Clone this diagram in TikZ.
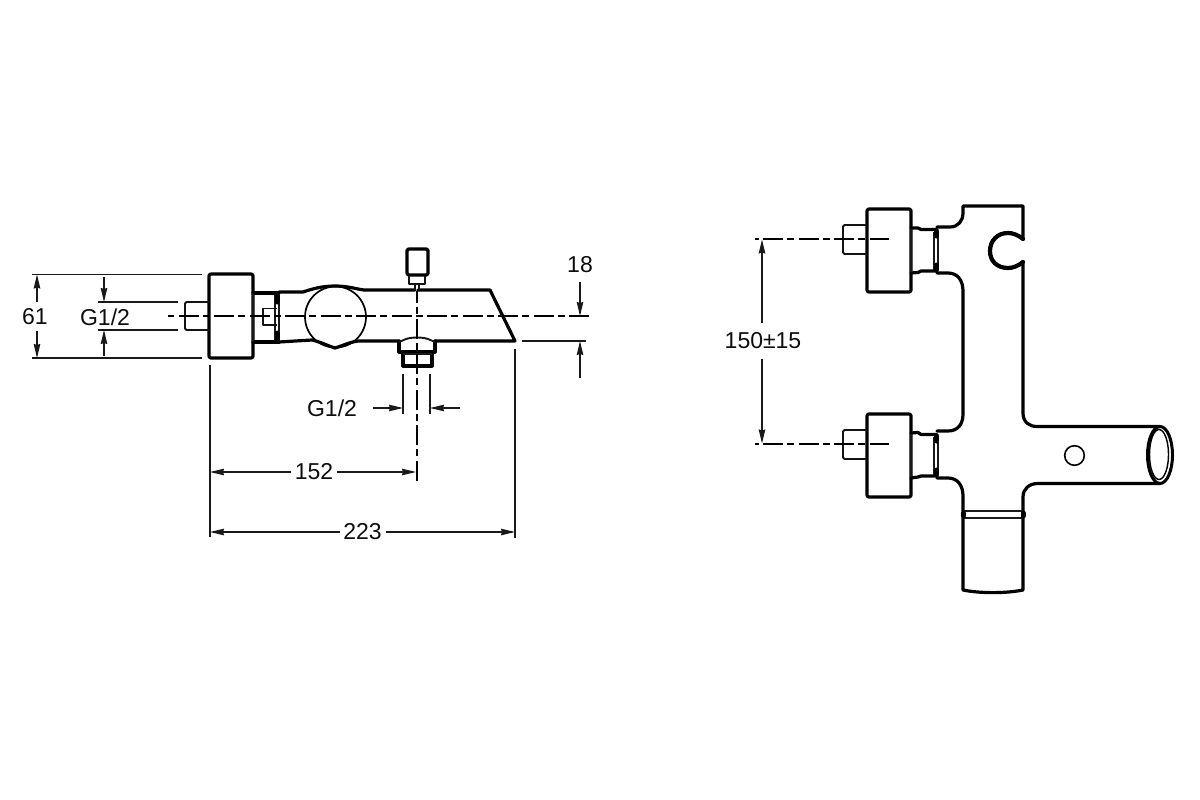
\documentclass[tikz,border=0pt]{standalone}
\usepackage{fontspec}
\setmainfont{Liberation Sans}
\usetikzlibrary{arrows.meta}
\tikzset{
  outline/.style={line width=3.2pt,line join=round,line cap=round,black},
  medium/.style={line width=1.9pt,line join=round,black!92},
  thinline/.style={line width=1.4pt,black!90},
  dimline/.style={line width=1.3pt,black!90},
  axisline/.style={line width=1.7pt,black,dash pattern=on 20pt off 4.25pt on 7pt off 4.25pt},
  arrowed/.style={dimline,-{Stealth[length=14pt,width=6.5pt,inset=1pt]}},
  lbl/.style={font=\fontsize{23}{26}\selectfont,inner sep=0pt,text=black!95},
  blob/.style={line width=5pt,line cap=round,black}
}
\begin{document}
\begin{tikzpicture}[x=1pt,y=-1pt]
\useasboundingbox (0,0) rectangle (1200,800);
% ---------- LEFT VIEW ----------
% back block and stub
\draw[outline,rounded corners=2pt] (209,274) -- (253,274) -- (253,358) -- (209,358) -- cycle;
\draw[medium,rounded corners=1.5pt] (209,302) -- (185,302) -- (185,330) -- (209,330);
% neck
\draw[outline] (253,293) -- (279,293);
\draw[outline] (253,342) -- (279,342);
\draw[thinline] (253,293) -- (253,342);
\draw[thinline] (275,294) -- (275,341);
\draw[thinline] (279,294) -- (279,341);
\draw[blob] (277,296) -- (277,302);
\draw[blob] (277,333) -- (277,339);
\draw[medium] (277,308.5) -- (263,308.5) -- (263,325) -- (277,325);
% body
\draw[outline] (279,292) -- (303,292) .. controls (312,289) and (322,286) .. (335,286)
  .. controls (348,286) and (356,289) .. (364,290) -- (415,290);
\draw[outline] (418,290) -- (490,290) -- (515,341) -- (499,341) -- (435,341);
\draw[outline] (399,341) -- (358,341) .. controls (350,342) and (342,346) .. (335,348)
  .. controls (328,346) and (321,342) .. (312,340) -- (279,342);
\draw[line width=1.7pt] (335.5,317) circle[radius=30.5];
% spout nut
\draw[outline] (399,341) -- (399,352) -- (435,352) -- (435,341);
\draw[medium] (399,342) -- (406,339) .. controls (412,337) and (422,337) .. (428,339) -- (435,342);
\draw[outline] (403,352) -- (403,366) -- (432,366) -- (432,352);
\draw[thinline] (403,354) -- (432,354);
% lever
\draw[outline,rounded corners=1.5pt] (407,275) -- (407,249) -- (428,249) -- (428,275) -- cycle;
\draw[medium] (409,276) -- (409,284) -- (425,284) -- (425,276);
\draw[medium] (415,284) -- (415,290);
\draw[medium] (419,284) -- (419,290);
% axes
\draw[axisline,dash phase=25pt] (168,316) -- (590,316);
\draw[axisline,line width=2.3pt,dash phase=8pt] (417,291) -- (417,483);
% dimensions
\coordinate (a61t) at (37,274.5);
\coordinate (a61b) at (37,358);
\draw[dimline] (32,274.5) -- (202,274.5);
\draw[dimline] (32,358) -- (202,358);
\draw[dimline] (98,302) -- (178,302);
\draw[dimline] (98,330) -- (178,330);
\node[lbl] (dimsixtyone) at (35,317) {61};
\draw[arrowed] (37,302) -- (a61t);
\draw[arrowed] (37,331) -- (a61b);
\node[lbl] (dimgleft) at (105,317) {G1/2};
\draw[arrowed] (104,277) -- (104,302);
\draw[arrowed] (104,356) -- (104,330);
\node[lbl] (dimgbottom) at (332,408) {G1/2};
\draw[dimline] (403,374) -- (403,414);
\draw[dimline] (430,374) -- (430,414);
\draw[arrowed] (373,408) -- (403,408);
\draw[arrowed] (460,408) -- (430,408);
\node[lbl] (dimeighteen) at (580,265) {18};
\draw[arrowed] (580,282) -- (580,316);
\draw[arrowed] (580,378) -- (580,341);
\draw[dimline] (522,341) -- (586,341);
\draw[dimline] (515,349) -- (515,538);
\draw[dimline] (210,365) -- (210,537);
\node[lbl] (dimonefivetwo) at (314,472) {152};
\draw[arrowed] (291,472) -- (210,472);
\draw[arrowed] (337,472) -- (416,472);
\node[lbl] (dimtwotwothree) at (362.5,532) {223};
\draw[arrowed] (340,532) -- (210,532);
\draw[arrowed] (386,532) -- (515,532);
% ---------- RIGHT VIEW ----------
% upper inlet
\draw[outline,rounded corners=2pt] (867,209) -- (911,209) -- (911,292) -- (867,292) -- cycle;
\draw[medium,rounded corners=1.5pt] (867,225) -- (843,225) -- (843,254) -- (867,254);
\draw[outline] (911,228) -- (918,228) -- (921,229.5) -- (937,229.5);
\draw[outline] (911,273) -- (918,272.5) -- (921,271) -- (937,271);
\draw[thinline] (911,229) -- (911,272);
\draw[thinline] (934,232) -- (934,270);
\draw[thinline] (938,232) -- (938,270);
\draw[blob] (936,231) -- (936,236);
\draw[blob] (936,265) -- (936,270);
% lower inlet
\draw[outline,rounded corners=2pt] (867,414) -- (911,414) -- (911,497) -- (867,497) -- cycle;
\draw[medium,rounded corners=1.5pt] (867,430) -- (843,430) -- (843,459) -- (867,459);
\draw[outline] (911,433) -- (918,432.5) -- (921,434.5) -- (937,434.5);
\draw[outline] (911,478) -- (918,477) -- (921,476) -- (937,476);
\draw[thinline] (911,434) -- (911,477);
\draw[thinline] (934,437) -- (934,475);
\draw[thinline] (938,437) -- (938,475);
\draw[blob] (936,436) -- (936,441);
\draw[blob] (936,470) -- (936,475);
% body contour
\draw[outline] (937,227) -- (950,227) .. controls (958,227) and (963,221) .. (963,213)
  -- (963,206) -- (1023,206) -- (1023,239)
  .. controls (1018,235) and (1013,233) .. (1008,233)
  .. controls (997,233) and (990,241) .. (990,251)
  .. controls (990,261) and (997,268) .. (1008,268)
  .. controls (1013,268) and (1018,266) .. (1023,262)
  -- (1023,413) .. controls (1023,422) and (1029,426.5) .. (1037,426.5) -- (1160,426.5);
\draw[line width=4.2pt,line cap=round] (1023,239) .. controls (1018,235) and (1013,233) .. (1008,233)
  .. controls (997,233) and (990,241) .. (990,251)
  .. controls (990,261) and (997,268) .. (1008,268)
  .. controls (1013,268) and (1018,266) .. (1023,262);
\draw[outline] (937,273) -- (948,273) .. controls (958,273) and (963,281) .. (963,291)
  -- (963,414) .. controls (963,424) and (958,431) .. (948,431) -- (937,431);
\draw[outline] (937,478) -- (948,478) .. controls (958,478) and (963,486) .. (963,496) -- (963,511);
\draw[outline] (1160,483.5) -- (1038,483.5) .. controls (1029,483.5) and (1023,489) .. (1023,497) -- (1023,511);
% tube end
\draw[line width=3pt] (1160,455) ellipse[x radius=12.5,y radius=28.5];
\draw[line width=1.4pt] (1159,454.5) ellipse[x radius=9.5,y radius=25];
\draw[line width=1.6pt] (1074.5,455.5) circle[radius=9.8];
% lower outlet
\draw[thinline] (963,511) -- (1023,511);
\draw[thinline] (963,518) -- (1023,518);
\draw[blob] (963,513) -- (963,516);
\draw[blob] (1023,513) -- (1023,516);
\draw[outline] (963,518) -- (963,590) .. controls (980,593.5) and (1006,593.5) .. (1023,590) -- (1023,518);
% axes and dimension
\draw[axisline,dash phase=27.5pt] (755,239) -- (889,239);
\draw[axisline,dash phase=27.5pt] (755,444) -- (889,444);
\node[lbl] (dimonefifty) at (763,341) {150±15};
\draw[arrowed] (762,323) -- (762,239.5);
\draw[arrowed] (762,359) -- (762,443.5);
\end{tikzpicture}
\end{document}
